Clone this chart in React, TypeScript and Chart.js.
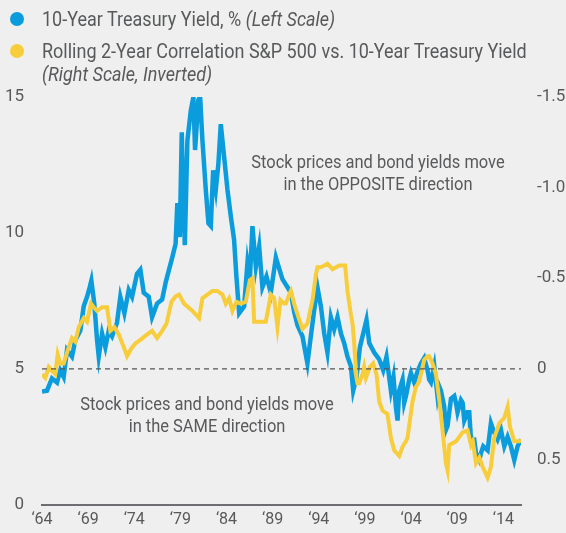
import React, { useEffect, useRef } from 'react';
import { Chart, registerables } from 'chart.js';
Chart.register(...registerables);

// 10-Year Treasury yield, % (left scale) — decimal year / value
const YIELD_DATES = [1964.00,1964.54,1965.08,1965.63,1965.98,1966.35,1966.71,1967.25,1967.61,1968.15,1968.52,1968.88,1969.17,1969.35,1969.67,1969.97,1970.15,1970.51,1970.87,1971.23,1971.59,1972.13,1972.49,1972.93,1973.40,1973.76,1974.30,1974.66,1975.03,1975.57,1975.93,1976.47,1977.02,1977.42,1978.12,1978.48,1978.67,1978.93,1979.15,1979.29,1979.48,1979.76,1980.13,1980.41,1980.59,1980.95,1981.14,1981.39,1981.75,1982.04,1982.30,1982.55,1982.84,1983.12,1983.38,1983.74,1984.10,1984.47,1984.82,1985.07,1985.37,1985.91,1986.27,1986.53,1986.81,1987.18,1987.54,1987.89,1988.33,1988.80,1989.35,1989.70,1990.06,1990.61,1990.97,1991.33,1991.69,1992.23,1992.77,1993.14,1993.50,1993.86,1994.23,1994.59,1994.94,1995.31,1995.67,1996.03,1996.40,1996.75,1997.11,1997.48,1997.73,1998.09,1998.46,1998.92,1999.17,1999.47,2000.01,2000.55,2000.98,2001.34,2001.82,2002.10,2002.36,2002.54,2002.72,2003.08,2003.26,2003.45,2003.80,2003.99,2004.35,2004.70,2005.07,2005.43,2005.79,2005.97,2006.16,2006.52,2006.87,2007.06,2007.24,2007.60,2007.78,2007.96,2008.33,2008.69,2008.87,2009.04,2009.41,2009.59,2009.77,2010.13,2010.31,2010.50,2010.85,2011.04,2011.40,2011.58,2011.83,2012.30,2012.66,2013.02,2013.38,2013.75,2014.11,2014.47,2014.83,2015.19,2015.55,2015.92];
const YIELD_VALUES = [4.17,4.2,4.65,4.5,4.95,4.7,5.7,5.45,6.05,6.4,7.3,7.65,8.0,8.25,7.4,6.05,5.45,6.3,5.8,6.4,6.2,6.7,7.65,7.05,7.9,7.65,8.5,8.65,7.8,7.65,6.9,7.4,7.55,8.2,9.1,9.6,11.1,9.85,13.7,11.6,9.55,13.4,14.5,15.0,13.05,14.9,15.0,13.4,11.6,10.35,10.25,12.3,11.6,12.55,14.0,12.8,11.6,10.6,9.75,8.4,7.05,7.3,8.9,8.3,10.25,8.75,9.5,8.0,8.4,7.8,9.1,8.7,8.3,8.0,7.8,7.1,6.6,6.2,5.2,6.2,7.15,8.0,7.3,6.3,5.6,6.9,6.45,6.9,6.3,5.95,5.45,5.1,4.2,4.7,5.8,6.45,6.8,5.95,5.6,5.35,4.95,5.45,4.2,4.7,3.6,3.1,4.2,4.6,3.75,4.0,4.6,4.85,4.5,4.9,5.2,5.4,4.95,4.6,4.5,5.1,4.0,4.35,4.2,3.6,2.75,2.9,3.9,4.0,3.75,3.4,3.85,3.75,3.1,3.4,3.4,2.4,2.4,1.9,1.65,1.9,2.15,2.0,3.0,2.65,2.4,2.75,2.15,2.5,2.15,1.65,2.15,2.4];

// Rolling 2-year correlation S&P 500 vs 10-year yield (right scale, inverted)
const CORR_DATES = [1964.00,1964.36,1964.73,1965.08,1965.44,1965.70,1965.98,1966.35,1966.90,1967.25,1967.61,1967.98,1968.52,1968.88,1969.31,1969.61,1969.97,1970.51,1971.05,1971.41,1971.84,1972.32,1972.86,1973.22,1973.65,1974.12,1974.66,1975.39,1975.93,1976.47,1977.02,1977.50,1978.03,1978.48,1978.86,1979.40,1980.30,1981.03,1981.39,1981.93,1982.47,1983.01,1983.56,1983.92,1984.28,1984.64,1985.07,1985.55,1986.09,1986.53,1986.81,1986.99,1987.54,1988.26,1988.80,1989.16,1989.52,1989.85,1990.25,1990.43,1990.79,1990.97,1991.33,1991.69,1992.23,1992.77,1993.32,1993.69,1993.86,1994.23,1994.94,1995.49,1996.21,1996.86,1997.11,1997.48,1997.66,1997.84,1998.09,1998.20,1998.38,1998.74,1998.92,1999.11,1999.54,1999.90,2000.26,2000.55,2000.91,2001.45,2001.82,2002.18,2002.54,2002.72,2003.08,2003.45,2003.62,2004.16,2004.53,2004.89,2005.43,2005.79,2005.97,2006.33,2006.70,2007.06,2007.42,2007.78,2007.96,2008.14,2008.87,2009.59,2010.13,2010.50,2010.70,2011.04,2011.40,2011.76,2011.94,2012.30,2012.66,2013.02,2013.57,2014.11,2014.47,2014.73,2015.19,2015.74,2015.92];
const CORR_VALUES = [0.03,0.05,-0.01,0.01,0.03,-0.08,-0.03,-0.03,-0.12,-0.17,-0.15,-0.23,-0.28,-0.26,-0.36,-0.34,-0.32,-0.34,-0.34,-0.21,-0.23,-0.19,-0.12,-0.07,-0.11,-0.14,-0.16,-0.19,-0.21,-0.17,-0.21,-0.25,-0.37,-0.40,-0.41,-0.36,-0.32,-0.28,-0.39,-0.41,-0.43,-0.43,-0.41,-0.36,-0.39,-0.32,-0.37,-0.36,-0.37,-0.49,-0.50,-0.26,-0.26,-0.26,-0.41,-0.39,-0.23,-0.38,-0.36,-0.36,-0.41,-0.43,-0.36,-0.30,-0.22,-0.25,-0.38,-0.52,-0.56,-0.56,-0.58,-0.55,-0.57,-0.57,-0.43,-0.30,-0.25,-0.14,0.05,0.08,0.08,0.03,-0.01,0.05,-0.01,-0.03,0.03,0.18,0.23,0.25,0.38,0.45,0.47,0.48,0.43,0.40,0.38,0.18,0.10,0.07,-0.05,-0.07,-0.07,-0.03,0.03,0.17,0.34,0.52,0.56,0.42,0.40,0.35,0.34,0.42,0.40,0.52,0.49,0.54,0.56,0.60,0.54,0.38,0.30,0.27,0.21,0.32,0.40,0.40,0.39];

const X_TICKS = [1964, 1969, 1974, 1979, 1984, 1989, 1994, 1999, 2004, 2009, 2014];
const X_TICK_LABELS = ['\u201864', '\u201869', '\u201874', '\u201879', '\u201884', '\u201889', '\u201894', '\u201899', '\u201804', '\u201809', '\u201814'];
const LEFT_TICKS = [0, 5, 10, 15];
const LEFT_TICK_LABELS = ['0', '5', '10', '15'];
const RIGHT_TICKS = [-1.5, -1.0, -0.5, 0, 0.5];
const RIGHT_TICK_LABELS = ['-1.5', '-1.0', '-0.5', '0', '0.5'];
const ZERO_CORR = 0;

const SERIES_NAMES = ['10-Year Treasury Yield, %', 'Rolling 2-Year Correlation S&P 500 vs. 10-Year Treasury Yield'];
const SERIES_NOTES = ['(Left Scale)', '(Right Scale, Inverted)'];
const NOTE_OPPOSITE = ['Stock prices and bond yields move', 'in the OPPOSITE direction'];
const NOTE_SAME = ['Stock prices and bond yields move', 'in the SAME direction'];

const BLUE = '#0a9cdc';
const YELLOW = '#f8cd3c';
const TEXT = '#58595b';
const BG = '#efefef';
const FONT = "Roboto, 'Liberation Sans', sans-serif";

export default function App() {
  const ref = useRef<HTMLCanvasElement | null>(null);

  useEffect(() => {
    const canvas = ref.current;
    if (!canvas) return;
    Chart.defaults.font.family = FONT;
    const xMin = YIELD_DATES[0];
    const xMax = YIELD_DATES[YIELD_DATES.length - 1];
    const chart = new Chart(canvas, {
      type: 'line',
      data: {
        datasets: [
          {
            label: 'zero',
            data: [{ x: xMin, y: ZERO_CORR }, { x: xMax, y: ZERO_CORR }],
            yAxisID: 'y1',
            borderColor: '#555',
            borderWidth: 1.3,
            borderDash: [5, 4],
            pointRadius: 0,
          },
          {
            label: SERIES_NAMES[1],
            data: CORR_DATES.map((d, i) => ({ x: d, y: CORR_VALUES[i] })),
            yAxisID: 'y1',
            borderColor: YELLOW,
            borderWidth: 4,
            pointRadius: 0,
            tension: 0,
          },
          {
            label: SERIES_NAMES[0],
            data: YIELD_DATES.map((d, i) => ({ x: d, y: YIELD_VALUES[i] })),
            yAxisID: 'y',
            borderColor: BLUE,
            borderWidth: 4.5,
            pointRadius: 0,
            tension: 0,
          },
        ],
      },
      options: {
        responsive: false,
        animation: false,
        layout: { padding: { top: 97, left: 0, right: 0, bottom: 0 } },
        plugins: { legend: { display: false }, tooltip: { enabled: false } },
        scales: {
          x: {
            type: 'linear',
            min: xMin,
            max: xMax,
            afterBuildTicks: (s: any) => { s.ticks = X_TICKS.map((v) => ({ value: v })); },
            afterFit: (s: any) => { s.height = 28; },
            ticks: {
              autoSkip: false,
              maxRotation: 0,
              padding: 6,
              color: TEXT,
              font: { size: 16 },
              callback: (v: any) => X_TICK_LABELS[X_TICKS.indexOf(v)] ?? '',
            },
            grid: { display: true, drawOnChartArea: false, drawTicks: false, color: 'transparent' },
            border: { display: true, color: '#6d6e71', width: 2 },
          },
          y: {
            position: 'left',
            min: 0,
            max: 15,
            afterBuildTicks: (s: any) => { s.ticks = LEFT_TICKS.map((v) => ({ value: v })); },
            afterFit: (s: any) => { s.width = 42; },
            ticks: {
              padding: 18,
              color: TEXT,
              font: { size: 17 },
              callback: (v: any) => LEFT_TICK_LABELS[LEFT_TICKS.indexOf(v)] ?? '',
            },
            grid: { display: false, drawTicks: false },
            border: { display: false },
          },
          y1: {
            position: 'right',
            reverse: true,
            min: -1.5,
            max: 0.75,
            afterBuildTicks: (s: any) => { s.ticks = RIGHT_TICKS.map((v) => ({ value: v })); },
            afterFit: (s: any) => { s.width = 45; },
            ticks: {
              padding: 16,
              color: TEXT,
              font: { size: 17 },
              callback: (v: any) => RIGHT_TICK_LABELS[RIGHT_TICKS.indexOf(v)] ?? '',
            },
            grid: { display: false, drawTicks: false },
            border: { display: false },
          },
        },
      },
    });
    return () => chart.destroy();
  }, []);

  const textStyle: React.CSSProperties = {
    position: 'absolute',
    fontFamily: FONT,
    color: TEXT,
    whiteSpace: 'nowrap',
    lineHeight: '22px',
  };
  const legendText: React.CSSProperties = {
    ...textStyle,
    left: 42,
    fontSize: 20,
    transform: 'scaleX(0.9)',
    transformOrigin: '0 0',
  };
  const noteText: React.CSSProperties = {
    ...textStyle,
    width: 400,
    textAlign: 'center',
    fontSize: 18.5,
    transform: 'scaleX(0.89)',
    transformOrigin: '50% 0',
  };

  return (
    <div style={{ position: 'fixed', left: 0, top: 0, width: 566, height: 533, background: BG, overflow: 'hidden' }}>
      <canvas ref={ref} width={566} height={533} style={{ position: 'absolute', left: 0, top: 0, width: 566, height: 533 }} />
      <div style={{ position: 'absolute', left: 10, top: 12, width: 14, height: 14, borderRadius: 7, background: BLUE }} />
      <div style={{ position: 'absolute', left: 10, top: 44, width: 14, height: 14, borderRadius: 7, background: YELLOW }} />
      <div style={{ ...legendText, top: 8 }}>
        {SERIES_NAMES[0]} <i>{SERIES_NOTES[0]}</i>
      </div>
      <div style={{ ...legendText, top: 40 }}>{SERIES_NAMES[1]}</div>
      <div style={{ ...legendText, top: 63 }}><i>{SERIES_NOTES[1]}</i></div>
      <div style={{ ...noteText, left: 178, top: 151 }}>
        {NOTE_OPPOSITE[0]}<br />{NOTE_OPPOSITE[1]}
      </div>
      <div style={{ ...noteText, left: 7, top: 393 }}>
        {NOTE_SAME[0]}<br />{NOTE_SAME[1]}
      </div>
    </div>
  );
}
